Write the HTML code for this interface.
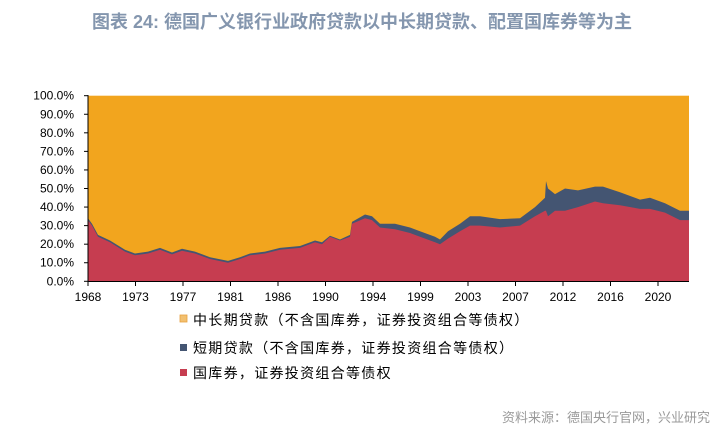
<!DOCTYPE html>
<html><head><meta charset="utf-8"><style>
body{margin:0;background:#fff;width:725px;height:440px;overflow:hidden;font-family:"Liberation Sans","Noto Sans CJK SC",sans-serif;}
</style></head><body>
<svg width="725" height="440" xmlns="http://www.w3.org/2000/svg">
<text x="362" y="28" text-anchor="middle" font-family="Liberation Sans, Noto Sans CJK SC, sans-serif" font-size="18" font-weight="bold" fill="#8496ae">图表 24: 德国广义银行业政府贷款以中长期贷款、配置国库券等为主</text>
<rect x="88" y="95.7" width="601" height="185.6" fill="#F2A51E"/>
<g id="areas"></g>
<line x1="88" y1="95" x2="88" y2="282" stroke="#000" stroke-width="1"/>
<line x1="88" y1="281.5" x2="689" y2="281.5" stroke="#000" stroke-width="1"/>
<g font-family="Liberation Sans, sans-serif" font-size="12" fill="#000" text-anchor="end" id="yl"></g>
<g font-family="Liberation Sans, sans-serif" font-size="12" fill="#000" text-anchor="middle" id="xl"></g>
<g font-family="Liberation Sans, Noto Sans CJK SC, sans-serif" font-size="14" letter-spacing="1.3" fill="#000">
<rect x="180" y="315" width="7" height="7" fill="#F2C070" stroke="#e6a040" stroke-width="0.8"/>
<text x="193" y="325">中长期贷款（不含国库券，证券投资组合等债权）</text>
<rect x="180" y="344" width="7" height="7" fill="#445572"/>
<text x="193" y="353">短期贷款（不含国库券，证券投资组合等债权）</text>
<rect x="180" y="369" width="7" height="7" fill="#C63D50"/>
<text x="193" y="378">国库券，证券投资组合等债权</text>
</g>
<text x="710" y="422" text-anchor="end" font-family="Liberation Sans, Noto Sans CJK SC, sans-serif" font-size="13" fill="#9a9a9a">资料来源：德国央行官网，兴业研究</text>
</svg>
<script>
var d=[[88,33,34],[92,30,31],[98,24,25],[110,21,22],[125,16,17],[135,14,15],[148,15,16],[160,17,18],[172,14.5,15.5],[182,16.5,17.5],[195,15,16],[210,12,13],[228,10,11],[240,12,13],[250,14,15],[265,15,16],[280,17,18],[300,18,19],[315,21,22],[322,20,21],[330,24,24.5],[340,22,22.5],[350,24,25],[352,31,32],[365,34,36],[372,33,35],[380,29,31],[395,28,31],[410,26,29],[420,24,27],[435,21,24],[440,20,22.5],[448,23,27],[460,27,31],[470,30,35],[480,30,35],[500,29,33.5],[520,30,34],[535,35,40],[545,38,45],[546,38,54],[548,35,50],[555,38,47],[565,38,50],[578,40,49],[595,43,51],[603,42,51],[620,41,48],[640,39,44],[650,39,45],[665,37,42],[680,33,38],[689,33,38]];
function y(p){return 281.3-p*1.856;}
function path(i){var s="M88,281.3";d.forEach(function(a){s+=" L"+a[0]+","+y(a[i]).toFixed(1);});return s+" L689,281.3Z";}
var ns="http://www.w3.org/2000/svg",g=document.getElementById("areas");
[[2,"#445572"],[1,"#C63D50"]].forEach(function(c){var p=document.createElementNS(ns,"path");p.setAttribute("d",path(c[0]));p.setAttribute("fill",c[1]);g.appendChild(p);});
var yl=document.getElementById("yl");
for(var i=0;i<=10;i++){var t=document.createElementNS(ns,"text");t.setAttribute("x",74);t.setAttribute("y",y(i*10)+4);t.textContent=(i*10)+".0%";yl.appendChild(t);
var l=document.createElementNS(ns,"line");l.setAttribute("x1",84);l.setAttribute("x2",88);l.setAttribute("y1",y(i*10));l.setAttribute("y2",y(i*10));l.setAttribute("stroke","#000");yl.appendChild(l);}
var xl=document.getElementById("xl"),yrs=["1968","1973","1977","1981","1986","1990","1994","1999","2003","2007","2012","2016","2020"];
yrs.forEach(function(s,i){var x=88+i*47.5;var t=document.createElementNS(ns,"text");t.setAttribute("x",x);t.setAttribute("y",301);t.textContent=s;xl.appendChild(t);
var l=document.createElementNS(ns,"line");l.setAttribute("x1",x);l.setAttribute("x2",x);l.setAttribute("y1",281);l.setAttribute("y2",286);l.setAttribute("stroke","#000");xl.appendChild(l);});
</script>
</body></html>
